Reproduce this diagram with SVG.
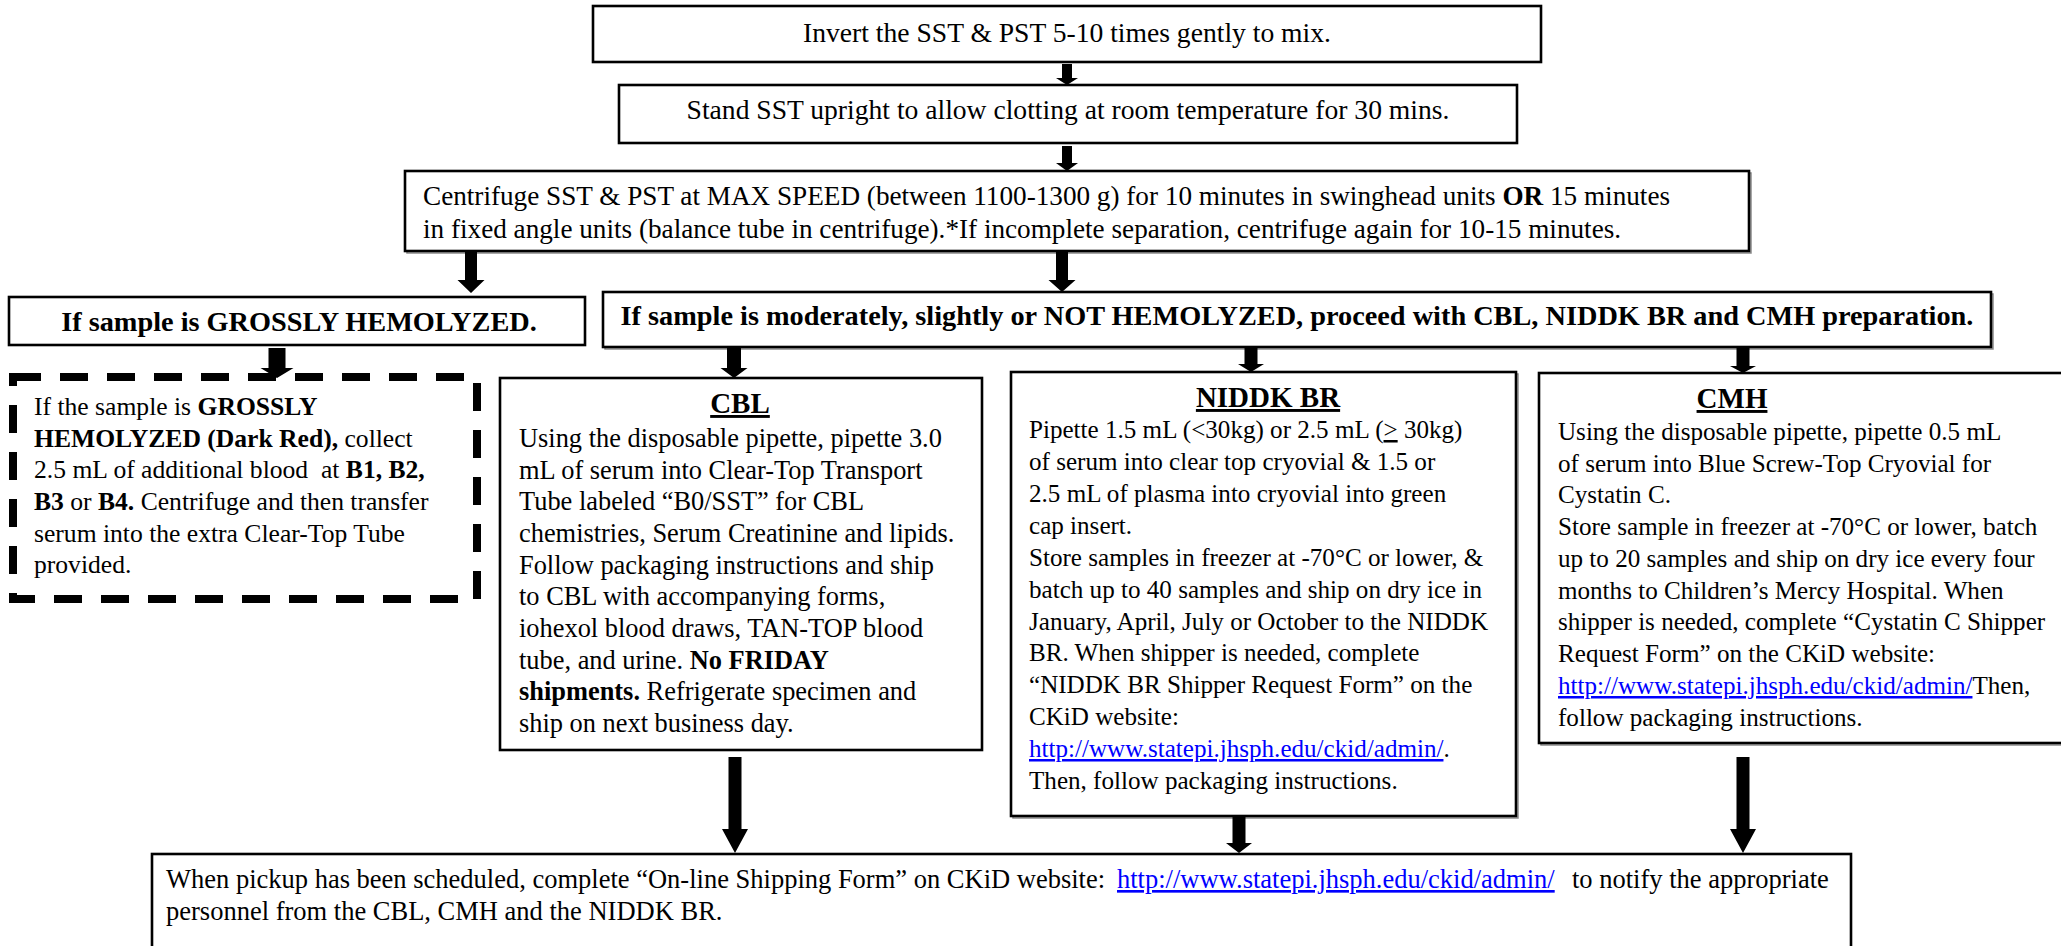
<svg xmlns="http://www.w3.org/2000/svg" width="2061" height="946" viewBox="0 0 2061 946">
  <style>
    .box { fill: #fff; stroke: #000; stroke-width: 2.6; }
    .shade { fill: none; stroke: #8a8a8a; stroke-width: 1.5; }
    .dash { fill: #fff; stroke: #000; stroke-width: 8; stroke-dasharray: 28 19; }
    .t { font-family: "Liberation Serif", "Times New Roman", serif; fill: #000; }
    .step { font-size: 27.6px; }
    .step3 { font-size: 27.2px; }
    .head { font-size: 28.3px; font-weight: bold; }
    .title { font-size: 29px; font-weight: bold; text-decoration: underline; }
    .b { font-weight: bold; }
    .s256 { font-size: 25.6px; }
    .s264 { font-size: 26.4px; }
    .s251 { font-size: 25.1px; }
    .s265 { font-size: 26.5px; }
    .link { fill: #0000ff; text-decoration: underline; }
    .arrow { fill: #000; }
  </style>

  <!-- step boxes -->
  <g id="invert">
    <rect class="box" x="593" y="6" width="948" height="56"/>
    <text class="t step" x="1067" y="42" text-anchor="middle">Invert the SST &amp; PST 5-10 times gently to mix.</text>
  </g>
  <g id="stand">
    <rect class="box" x="619" y="85" width="898" height="58"/>
    <text class="t step" x="1068" y="119" text-anchor="middle">Stand SST upright to allow clotting at room temperature for 30 mins.</text>
  </g>
  <g id="centrifuge">
    <rect class="shade" x="407" y="173" width="1344" height="80"/>
    <rect class="box" x="405" y="171" width="1344" height="80"/>
    <text class="t step3" x="423" y="205">Centrifuge SST &amp; PST at MAX SPEED (between 1100-1300 g) for 10 minutes in swinghead units <tspan class="b">OR</tspan> 15 minutes</text>
    <text class="t step3" x="423" y="238">in fixed angle units (balance tube in centrifuge).*If incomplete separation, centrifuge again for 10-15 minutes.</text>
  </g>

  <!-- branch boxes -->
  <g id="gross">
    <rect class="box" x="9" y="297" width="576" height="48"/>
    <text class="t head" x="299" y="331" text-anchor="middle">If sample is GROSSLY HEMOLYZED.</text>
  </g>
  <g id="not-hemolyzed">
    <rect class="shade" x="605" y="294" width="1388" height="55"/>
    <rect class="box" x="603" y="292" width="1388" height="55"/>
    <text class="t head" x="1297" y="325" text-anchor="middle">If sample is moderately, slightly or NOT HEMOLYZED, proceed with CBL, NIDDK BR and CMH preparation.</text>
  </g>

  <!-- extra draw for hemolyzed samples -->
  <g id="recollect">
    <rect class="dash" x="13" y="377" width="464" height="222"/>
    <g class="t s256">
      <text x="34" y="415">If the sample is <tspan class="b">GROSSLY</tspan></text>
      <text x="34" y="447"><tspan class="b">HEMOLYZED (Dark Red),</tspan> collect</text>
      <text x="34" y="478">2.5 mL of additional blood&#160; at <tspan class="b">B1, B2,</tspan></text>
      <text x="34" y="510"><tspan class="b">B3</tspan> or <tspan class="b">B4.</tspan> Centrifuge and then transfer</text>
      <text x="34" y="542">serum into the extra Clear-Top Tube</text>
      <text x="34" y="573">provided.</text>
    </g>
  </g>

  <!-- lab preparation boxes -->
  <g id="cbl">
    <rect class="box" x="500" y="378" width="482" height="372"/>
    <text class="t title" x="740" y="413" text-anchor="middle">CBL</text>
    <g class="t s264">
      <text x="519" y="447">Using the disposable pipette, pipette 3.0</text>
      <text x="519" y="479">mL of serum into Clear-Top Transport</text>
      <text x="519" y="510">Tube labeled “B0/SST” for CBL</text>
      <text x="519" y="542">chemistries, Serum Creatinine and lipids.</text>
      <text x="519" y="574">Follow packaging instructions and ship</text>
      <text x="519" y="605">to CBL with accompanying forms,</text>
      <text x="519" y="637">iohexol blood draws, TAN-TOP blood</text>
      <text x="519" y="669">tube, and urine. <tspan class="b">No FRIDAY</tspan></text>
      <text x="519" y="700"><tspan class="b">shipments.</tspan> Refrigerate specimen and</text>
      <text x="519" y="732">ship on next business day.</text>
    </g>
  </g>

  <g id="niddk">
    <rect class="shade" x="1013" y="374" width="505" height="444"/>
    <rect class="box" x="1011" y="372" width="505" height="444"/>
    <text class="t title" x="1268" y="407" text-anchor="middle">NIDDK BR</text>
    <g class="t s251">
      <text x="1029" y="438">Pipette 1.5 mL (&lt;30kg) or 2.5 mL (<tspan text-decoration="underline">&gt;</tspan> 30kg)</text>
      <text x="1029" y="470">of serum into clear top cryovial &amp; 1.5 or</text>
      <text x="1029" y="502">2.5 mL of plasma into cryovial into green</text>
      <text x="1029" y="534">cap insert.</text>
      <text x="1029" y="566">Store samples in freezer at -70°C or lower, &amp;</text>
      <text x="1029" y="598">batch up to 40 samples and ship on dry ice in</text>
      <text x="1029" y="630">January, April, July or October to the NIDDK</text>
      <text x="1029" y="661">BR. When shipper is needed, complete</text>
      <text x="1029" y="693">“NIDDK BR Shipper Request Form” on the</text>
      <text x="1029" y="725">CKiD website:</text>
      <text x="1029" y="757"><tspan class="link">http://www.statepi.jhsph.edu/ckid/admin/</tspan>.</text>
      <text x="1029" y="789">Then, follow packaging instructions.</text>
    </g>
  </g>

  <g id="cmh">
    <rect class="shade" x="1541" y="375" width="540" height="370"/>
    <rect class="box" x="1539" y="373" width="540" height="370"/>
    <text class="t title" x="1732" y="408" text-anchor="middle">CMH</text>
    <g class="t s251">
      <text x="1558" y="440">Using the disposable pipette, pipette 0.5 mL</text>
      <text x="1558" y="472">of serum into Blue Screw-Top Cryovial for</text>
      <text x="1558" y="503">Cystatin C.</text>
      <text x="1558" y="535">Store sample in freezer at -70°C or lower, batch</text>
      <text x="1558" y="567">up to 20 samples and ship on dry ice every four</text>
      <text x="1558" y="599">months to Children’s Mercy Hospital. When</text>
      <text x="1558" y="630">shipper is needed, complete “Cystatin C Shipper</text>
      <text x="1558" y="662">Request Form” on the CKiD website:</text>
      <text x="1558" y="694"><tspan class="link">http://www.statepi.jhsph.edu/ckid/admin/</tspan>Then,</text>
      <text x="1558" y="726">follow packaging instructions.</text>
    </g>
  </g>

  <!-- final shipping step -->
  <g id="shipping">
    <rect class="box" x="152" y="854" width="1699" height="120"/>
    <g class="t s265">
      <text x="166" y="888">When pickup has been scheduled, complete “On-line Shipping Form” on CKiD website: <tspan x="1117" class="link">http://www.statepi.jhsph.edu/ckid/admin/</tspan><tspan x="1572">to notify the appropriate</tspan></text>
      <text x="166" y="920">personnel from the CBL, CMH and the NIDDK BR.</text>
    </g>
  </g>

  <!-- block arrows between steps -->
  <g id="connectors" class="arrow">
    <path d="M1062 64 H1072 V78 H1078 L1067 85 L1056 78 H1062 Z"/>
    <path d="M1062 146 H1072 V163 H1078 L1067 171 L1056 163 H1062 Z"/>
    <path d="M465 252 H477 V280 H484.5 L471 293 L457.5 280 H465 Z"/>
    <path d="M1056 252 H1068 V280 H1075.5 L1062 292 L1048.5 280 H1056 Z"/>
    <path d="M268.5 348 H285.5 V368 H293.5 L277 378 L260.5 368 H268.5 Z"/>
    <path d="M727 348 H741 V368 H747.5 L734 378 L720.5 368 H727 Z"/>
    <path d="M1244.5 348 H1257.5 V364 H1264 L1251 372 L1238 364 H1244.5 Z"/>
    <path d="M1736.5 348 H1749.5 V366 H1756 L1743 373 L1730 366 H1736.5 Z"/>
    <path d="M728.5 757 H741.5 V829 H748 L735 853 L722 829 H728.5 Z"/>
    <path d="M1232.5 817 H1245.5 V843 H1252 L1239 853 L1226 843 H1232.5 Z"/>
    <path d="M1736.5 757 H1749.5 V829 H1756 L1743 853 L1730 829 H1736.5 Z"/>
  </g>
</svg>
